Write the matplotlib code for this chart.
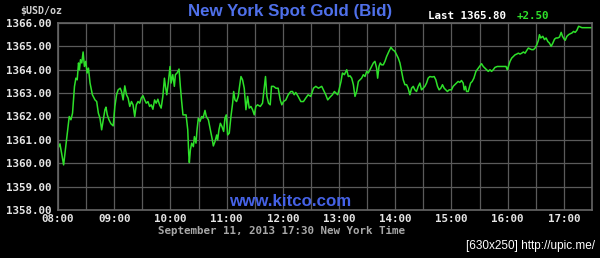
import matplotlib
matplotlib.use("Agg")
import matplotlib.pyplot as plt
from matplotlib.ticker import FixedLocator

# minutes after 08:00 New York time, and bid price (USD/oz)
minutes_after_8 = [
    0, 2.1, 6.0, 9.5, 12.0, 13.8, 15.5, 17.6, 19.1, 20.5, 21.9, 22.9, 24.0, 25.4,
    26.8, 28.2, 29.6, 31.1, 32.5, 34.2, 36.7, 39.5, 41.3, 43.1, 44.8, 46.6, 48.4,
    50.1, 51.2, 52.6, 54.4, 56.5, 58.9, 60.7, 62.5, 64.2, 66.4, 67.8, 69.5, 71.3,
    73.1, 74.8, 76.6, 78.4, 80.1, 81.9, 83.6, 85.4, 87.2, 88.9, 90.7, 92.5, 94.2,
    96.0, 97.8, 99.5, 101.3, 103.1, 104.8, 106.6, 108.4, 110.1, 111.9, 113.6,
    114.7, 116.1, 117.9, 119.6, 120.7, 122.5, 124.2, 125.3, 127.1, 129.2, 130.6,
    132.0, 133.4, 136.7, 138.5, 139.5, 140.2, 141.3, 142.7, 144.5, 145.6, 147.3,
    148.4, 149.8, 151.6, 153.4, 154.8, 156.9, 158.3, 160.5, 162.6, 164.4, 165.8,
    167.6, 169.4, 170.4, 171.8, 173.3, 175.0, 176.8, 178.2, 179.6, 181.1, 182.8,
    184.6, 186.4, 187.5, 188.9, 190.6, 192.4, 193.8, 195.3, 197.0, 198.8, 200.6,
    202.4, 204.1, 205.9, 207.7, 209.5, 211.2, 213.0, 215.9, 218.3, 220.1, 221.5,
    223.0, 224.7, 226.5, 227.9, 230.1, 232.6, 235.0, 237.2, 238.9, 240.7, 243.2,
    245.7, 248.5, 250.3, 252.1, 253.8, 256.3, 259.2, 262.0, 264.5, 267.0, 269.8,
    272.7, 275.2, 278.0, 281.5, 283.3, 285.8, 287.9, 290.4, 292.9, 295.0, 296.8,
    298.6, 300.0, 302.1, 303.6, 305.7, 308.2, 309.9, 311.7, 313.5, 315.3, 317.0,
    318.8, 320.6, 322.4, 324.1, 325.9, 327.7, 329.5, 331.2, 333.0, 334.8, 336.6,
    338.3, 340.1, 341.2, 342.6, 344.0, 345.4, 347.2, 349.0, 350.8, 353.3, 355.4,
    357.2, 359.6, 361.4, 363.2, 365.0, 366.7, 368.5, 370.3, 372.1, 373.8, 375.6,
    377.4, 379.2, 380.9, 382.7, 384.5, 386.3, 388.0, 389.8, 391.6, 393.4, 395.1,
    396.9, 399.4, 401.5, 403.3, 405.1, 406.8, 408.6, 410.4, 412.2, 414.0, 415.7,
    417.5, 420.0, 421.8, 423.6, 425.4, 427.1, 428.9, 430.7, 432.5, 433.6, 435.0,
    436.1, 437.9, 438.9, 440.4, 442.1, 443.9, 446.1, 448.6, 450.4, 452.1, 453.9,
    455.7, 457.5, 459.3, 461.1, 462.8, 464.6, 466.4, 468.9, 471.8, 475.4, 478.2,
    479.6, 480.7, 482.5, 484.3, 486.1, 487.9, 489.6, 491.4, 493.2, 495.0, 496.8,
    498.6, 500.4, 502.1, 503.9, 505.7, 507.5, 509.3, 511.1, 512.8, 513.9, 515.3,
    517.5, 519.3, 521.0, 522.8, 524.6, 526.4, 528.2, 530.0, 531.7, 533.5, 535.3,
    537.1, 538.5, 540.3, 541.4, 543.2, 545.0, 546.7, 548.5, 550.3, 552.1, 553.9,
    555.7, 559.3, 570.0,
]
bid_price = [
    1360.64, 1360.83, 1359.93, 1361.14, 1362.00, 1361.86, 1362.14, 1363.29, 1363.64,
    1363.57, 1364.29, 1364.00, 1364.43, 1364.29, 1364.76, 1364.14, 1364.36, 1363.86,
    1364.07, 1363.43, 1362.93, 1362.71, 1362.64, 1362.14, 1361.93, 1361.43, 1361.86,
    1362.29, 1362.40, 1362.07, 1361.86, 1361.69, 1361.60, 1362.43, 1362.93, 1363.14,
    1363.21, 1363.07, 1362.71, 1363.31, 1362.93, 1362.79, 1362.43, 1362.64, 1362.50,
    1362.00, 1362.50, 1362.64, 1362.57, 1362.79, 1362.89, 1362.71, 1362.57, 1362.64,
    1362.43, 1362.50, 1362.31, 1362.71, 1362.57, 1362.74, 1362.50, 1362.36, 1362.86,
    1363.64, 1363.29, 1362.93, 1363.50, 1364.14, 1363.43, 1363.79, 1363.29, 1363.79,
    1363.86, 1364.03, 1363.29, 1362.64, 1362.07, 1362.07, 1361.43, 1360.43, 1360.03,
    1360.57, 1360.86, 1360.71, 1361.14, 1360.86, 1361.43, 1361.93, 1361.79, 1362.00,
    1361.93, 1362.26, 1362.00, 1361.86, 1361.43, 1361.07, 1360.74, 1360.93, 1361.21,
    1361.00, 1361.43, 1361.71, 1361.57, 1361.36, 1361.93, 1362.07, 1361.21, 1361.29,
    1362.00, 1362.57, 1363.07, 1362.71, 1362.64, 1362.86, 1363.29, 1363.71, 1363.57,
    1363.21, 1362.29, 1362.86, 1362.36, 1362.43, 1362.29, 1362.07, 1362.43, 1362.50,
    1362.43, 1362.57, 1363.21, 1363.71, 1362.86, 1362.57, 1362.50, 1363.29, 1363.29,
    1363.21, 1363.21, 1362.71, 1362.50, 1362.64, 1362.71, 1362.93, 1363.07, 1363.07,
    1362.93, 1363.03, 1362.86, 1362.64, 1362.64, 1362.79, 1362.93, 1362.86, 1363.21,
    1363.29, 1363.21, 1363.29, 1363.14, 1362.93, 1362.71, 1362.83, 1362.93, 1363.07,
    1363.00, 1362.93, 1363.14, 1363.50, 1363.86, 1363.79, 1364.00, 1363.71, 1363.74,
    1363.64, 1363.36, 1362.86, 1363.07, 1363.50, 1363.57, 1363.64, 1363.79, 1363.71,
    1363.93, 1363.86, 1364.00, 1364.14, 1364.29, 1364.36, 1364.07, 1363.64, 1364.14,
    1364.29, 1364.21, 1364.21, 1364.36, 1364.57, 1364.79, 1364.96, 1364.86, 1364.79,
    1364.64, 1364.50, 1364.29, 1363.93, 1363.57, 1363.36, 1363.36, 1363.21, 1362.93,
    1363.21, 1363.29, 1363.14, 1363.07, 1363.29, 1363.43, 1363.14, 1363.21, 1363.29,
    1363.43, 1363.64, 1363.71, 1363.69, 1363.71, 1363.57, 1363.29, 1363.14, 1363.21,
    1363.36, 1363.21, 1363.14, 1363.07, 1363.14, 1363.14, 1363.29, 1363.36, 1363.43,
    1363.50, 1363.46, 1363.54, 1363.43, 1363.14, 1363.29, 1363.07, 1363.07, 1363.21,
    1363.43, 1363.50, 1363.64, 1363.93, 1364.07, 1364.17, 1364.26, 1364.14, 1364.07,
    1364.00, 1363.93, 1364.00, 1363.93, 1364.00, 1364.10, 1364.14, 1364.14, 1364.14,
    1364.14, 1364.00, 1364.14, 1364.36, 1364.50, 1364.57, 1364.64, 1364.67, 1364.71,
    1364.67, 1364.71, 1364.76, 1364.71, 1364.83, 1364.93, 1364.89, 1364.86, 1364.86,
    1364.93, 1365.07, 1365.26, 1365.50, 1365.36, 1365.43, 1365.29, 1365.36, 1365.21,
    1365.14, 1365.00, 1365.14, 1365.31, 1365.36, 1365.36, 1365.40, 1365.60, 1365.43,
    1365.31, 1365.26, 1365.43, 1365.50, 1365.54, 1365.57, 1365.64, 1365.60, 1365.69,
    1365.86, 1365.80, 1365.80,
]

hour_labels = ["08:00", "09:00", "10:00", "11:00", "12:00",
               "13:00", "14:00", "15:00", "16:00", "17:00"]
price_ticks = [1358, 1359, 1360, 1361, 1362, 1363, 1364, 1365, 1366]

hours = [8 + m / 60 for m in minutes_after_8]

mono = "DejaVu Sans Mono"
sans = "Liberation Sans"

fig = plt.figure(figsize=(6, 2.58), dpi=100, facecolor="black")
ax = fig.add_axes([58 / 600, 1 - 210 / 258, 534 / 600, 187 / 258])
ax.set_facecolor("black")

ax.plot(hours, bid_price, color="#2ee02a", lw=1.1)

ax.set_xlim(8, 17.5)
ax.set_ylim(1358, 1366)
ax.xaxis.set_major_locator(FixedLocator(list(range(8, 18))))
ax.xaxis.set_minor_locator(FixedLocator([h + 0.5 for h in range(8, 17)]))
ax.set_xticklabels(hour_labels)
ax.set_yticks(price_ticks)
ax.set_yticklabels([f"{p:.2f}" for p in price_ticks])
ax.grid(True, which="both", color="#5a5a5a", lw=0.9)
ax.tick_params(which="both", length=0, colors="#e6e6e6")
ax.tick_params(axis="x", pad=3)
ax.tick_params(axis="y", pad=5)
for lab in ax.get_xticklabels() + ax.get_yticklabels():
    lab.set_family(mono)
    lab.set_fontsize(7.8)
    lab.set_fontweight("bold")
for side in ax.spines.values():
    side.set_color("#666666")
    side.set_linewidth(1.2)

fig.text(290 / 600, 1 - 11.5 / 258, "New York Spot Gold (Bid)", color="#4f70ea",
         fontsize=12.2, fontweight="bold", family=sans, ha="center", va="center")
fig.text(20 / 600, 1 - 11 / 258, "$USD/oz", color="#d0d0d0", fontsize=7.2,
         family=mono, fontweight="bold", ha="left", va="center")
fig.text(428 / 600, 1 - 16 / 258, "Last 1365.80", color="white", fontsize=7.8,
         family=mono, fontweight="bold", ha="left", va="center")
fig.text(517 / 600, 1 - 16 / 258, "+2.50", color="#2ee02a", fontsize=7.8,
         family=mono, fontweight="bold", ha="left", va="center")
fig.text(290 / 600, 1 - 202 / 258, "www.kitco.com", color="#4562e6",
         fontsize=12.2, fontweight="bold", family=sans, ha="center", va="center")
fig.text(282 / 600, 1 - 231 / 258, "September 11, 2013 17:30 New York Time",
         color="#a8a8a8", fontsize=7.8, family=mono, fontweight="bold",
         ha="center", va="center")
fig.text(595 / 600, 1 - 246.5 / 258, "[630x250] http://upic.me/", color="white",
         fontsize=8.5, family=sans, ha="right", va="center")

fig.savefig("out.png", dpi=100, facecolor="black")
